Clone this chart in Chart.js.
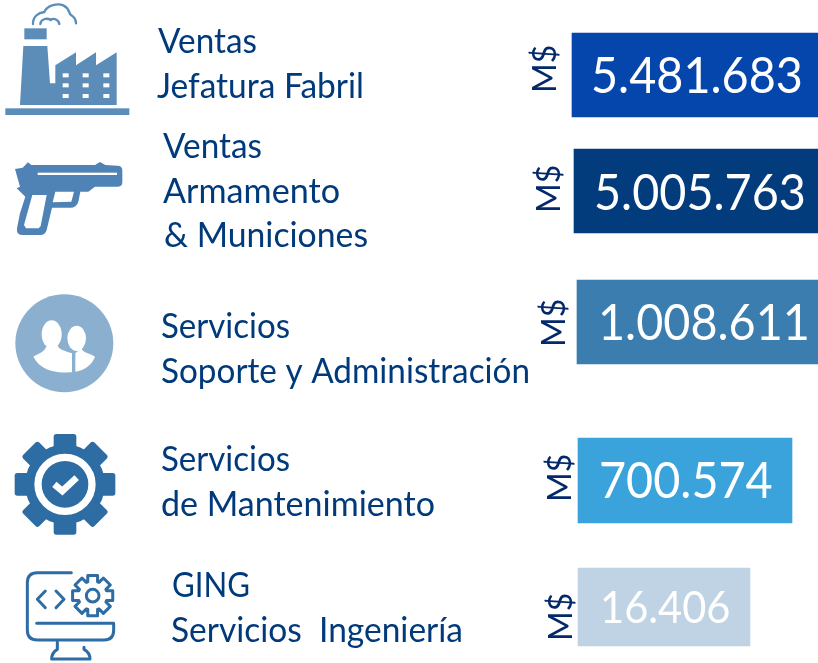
<!DOCTYPE html>
<html lang="es">
<head>
    <meta charset="UTF-8">
    <title>Ventas y Servicios</title>
    <script src="https://cdn.jsdelivr.net/npm/chart.js"></script>
    <style>
        html, body { margin: 0; padding: 0; background: #fff; }
        canvas { display: block; }
    </style>
</head>
<body>
    <canvas id="myChart" width="818" height="663"></canvas>
<script>
// Chart values
const categories = [
    ["Ventas", "Jefatura Fabril"],
    ["Ventas", "Armamento", "& Municiones"],
    ["Servicios", "Soporte y Administración"],
    ["Servicios", "de Mantenimiento"],
    ["GING", "Servicios  Ingeniería"]
]
const values = [5481683, 5005763, 1008611, 700574, 16406]
const unitLabel = "M$"
// The bars in the picture are not to scale with the printed amounts,
// so their drawn lengths are read off separately
const barLengths = [246, 244, 241, 214, 172]

// Layout of each row (all in picture pixels, the axes run 0-818 and 0-663)
const rowCenters = [75, 191, 322, 480.5, 607]
const rowThickness = [84, 84, 84, 85, 78]
const rowBarLeft = [572, 574, 577, 578, 578]
const rowColors = ["#0546AC", "#033C7C", "#3A7DAE", "#3BA3DC", "#BFD3E5"]
const textLeft = [[158, 157], [163, 163, 164], [161, 161], [161, 161], [172, 171]]
const textRight = [[257, 364], [262, 340, 368], [290, 530], [290, 435], [250, 463]]
const textBaseline = [[53, 98], [158, 203, 247], [338, 383], [471, 516], [597, 642]]
const valueLeft = [591, 594, 598, 599, 600]
const valueBaseline = [93, 210, 340, 498, 623]
const valueSize = [50, 50, 50, 50, 44.5]
const unitX = [556, 560, 565, 571, 572]
const unitY = [93, 213, 347, 502, 641]

const textColor = "#013A7B"
const unitColor = "#03296B"
const labelFont = "35px Lato"
const valueStretch = 0.935
const unitFont = "32px Lato"

// Spanish thousands separator
function formatValue(v) {
    return String(v).replace(/\B(?=(\d{3})+$)/g, ".")
}

// Lato is a little wider than the picture's font, so squeeze it sideways
function squeezedText(ctx, text, x, y, sx) {
    ctx.save()
    ctx.translate(x, y)
    ctx.scale(sx, 1)
    ctx.fillText(text, 0, 0)
    ctx.restore()
}

function poly(ctx, pts) {
    ctx.beginPath()
    pts.forEach((p, i) => i ? ctx.lineTo(p[0], p[1]) : ctx.moveTo(p[0], p[1]))
    ctx.closePath()
}

// Icons are sketched in the coordinates of a 3x enlargement of the picture
function withIcon(ctx, ox, oy, fn) {
    ctx.save()
    ctx.translate(ox, oy)
    ctx.scale(1 / 3, 1 / 3)
    ctx.lineCap = "round"
    ctx.lineJoin = "round"
    fn()
    ctx.restore()
}

function drawFactory(ctx) {
    withIcon(ctx, 0, 0, () => {
        const c = "#5B8DB8"
        ctx.fillStyle = c
        ctx.fillRect(16, 325, 372, 20)
        ctx.fillRect(73, 85, 67, 33)
        poly(ctx, [[70, 138], [142, 138], [150, 250], [166, 250], [166, 196], [228, 157], [228, 196],
            [288, 157], [288, 196], [350, 157], [350, 315], [60, 315]])
        ctx.fill()
        ctx.fillStyle = "#fff"
        ;[188, 248, 310].forEach(x => [220, 250, 282].forEach(y => ctx.fillRect(x, y, 18, 12)))
        ctx.strokeStyle = c
        ctx.lineWidth = 7
        ctx.beginPath()
        ctx.moveTo(99, 72)
        ctx.bezierCurveTo(98, 50, 115, 38, 133, 36)
        ctx.bezierCurveTo(140, 18, 170, 8, 190, 16)
        ctx.bezierCurveTo(208, 24, 206, 38, 212, 44)
        ctx.bezierCurveTo(222, 50, 228, 60, 228, 70)
        ctx.stroke()
        ctx.beginPath()
        ctx.moveTo(121, 72)
        ctx.bezierCurveTo(122, 58, 140, 52, 152, 60)
        ctx.bezierCurveTo(162, 52, 176, 60, 178, 72)
        ctx.stroke()
    })
}

function drawGun(ctx) {
    withIcon(ctx, 0, 145, () => {
        ctx.fillStyle = "#4F82B5"
        ctx.beginPath()
        ctx.moveTo(45, 72)
        ;[[68, 68], [84, 52], [94, 60], [285, 60], [300, 51], [316, 60], [352, 62]].forEach(p => ctx.lineTo(p[0], p[1]))
        ctx.quadraticCurveTo(367, 62, 367, 76)
        ctx.lineTo(367, 112)
        ctx.quadraticCurveTo(367, 125, 354, 125)
        ctx.lineTo(285, 125)
        ctx.lineTo(265, 140)
        ctx.lineTo(241, 140)
        ctx.lineTo(235, 170)
        ctx.quadraticCurveTo(230, 188, 210, 188)
        ctx.lineTo(156, 188)
        ctx.lineTo(140, 255)
        ctx.quadraticCurveTo(136, 270, 120, 270)
        ctx.lineTo(66, 270)
        ctx.quadraticCurveTo(48, 270, 51, 250)
        ctx.lineTo(60, 205)
        ctx.lineTo(76, 155)
        ctx.lineTo(50, 130)
        ctx.lineTo(60, 125)
        ctx.closePath()
        ctx.fill()
        ctx.fillStyle = "#fff"
        poly(ctx, [[166, 140], [222, 140], [214, 170], [158, 172]])
        ctx.fill()
        poly(ctx, [[97, 150], [140, 150], [122, 243], [116, 250], [78, 250], [72, 240]])
        ctx.fill()
        ctx.fillRect(113, 83, 238, 7)
    })
}

function drawPeople(ctx) {
    withIcon(ctx, 0, 285, () => {
        ctx.fillStyle = "#8BAFCF"
        ctx.beginPath()
        ctx.arc(193, 175, 147, 0, Math.PI * 2)
        ctx.fill()
        ctx.fillStyle = "#fff"
        ctx.beginPath()
        ctx.ellipse(155, 148, 30, 42, 0, 0, Math.PI * 2)
        ctx.fill()
        ctx.beginPath()
        ctx.moveTo(100, 215)
        ctx.bezierCurveTo(115, 205, 135, 200, 138, 185)
        ctx.lineTo(172, 178)
        ctx.bezierCurveTo(175, 195, 195, 198, 216, 205)
        ctx.lineTo(216, 262)
        ctx.bezierCurveTo(165, 265, 120, 255, 100, 215)
        ctx.fill()
        ctx.beginPath()
        ctx.ellipse(230, 160, 28, 38, 0, 0, Math.PI * 2)
        ctx.fill()
        ctx.beginPath()
        ctx.moveTo(226, 205)
        ctx.lineTo(244, 190)
        ctx.bezierCurveTo(250, 205, 270, 205, 285, 215)
        ctx.bezierCurveTo(275, 240, 255, 255, 226, 260)
        ctx.fill()
    })
}

function drawGear(ctx) {
    withIcon(ctx, 0, 425, () => {
        const c = "#2E6CA4"
        const cx = 195, cy = 178
        ctx.fillStyle = c
        ctx.beginPath()
        ctx.arc(cx, cy, 120, 0, Math.PI * 2)
        ctx.fill()
        for (let i = 0; i < 8; i++) {
            ctx.save()
            ctx.translate(cx, cy)
            ctx.rotate(i * Math.PI / 4)
            ctx.beginPath()
            ctx.roundRect(-34, -151, 68, 60, 8)
            ctx.fill()
            ctx.restore()
        }
        ctx.strokeStyle = "#fff"
        ctx.lineWidth = 22
        ctx.beginPath()
        ctx.arc(cx, cy, 81, 0, Math.PI * 2)
        ctx.stroke()
        ctx.lineWidth = 20
        ctx.lineCap = "butt"
        ctx.lineJoin = "miter"
        ctx.beginPath()
        ctx.moveTo(163, 178)
        ctx.lineTo(187, 198)
        ctx.lineTo(230, 158)
        ctx.stroke()
    })
}

function drawMonitor(ctx) {
    withIcon(ctx, 10, 560, () => {
        const c = "#2E6CA4"
        ctx.strokeStyle = c
        ctx.lineWidth = 9
        ctx.beginPath()
        ctx.moveTo(184, 38)
        ctx.lineTo(82, 38)
        ctx.quadraticCurveTo(52, 38, 52, 68)
        ctx.lineTo(52, 210)
        ctx.quadraticCurveTo(52, 240, 82, 240)
        ctx.lineTo(282, 240)
        ctx.quadraticCurveTo(311, 240, 311, 210)
        ctx.lineTo(311, 190)
        ctx.lineTo(80, 190)
        ctx.stroke()
        ctx.beginPath()
        ctx.moveTo(142, 246)
        ctx.lineTo(142, 268)
        ctx.quadraticCurveTo(125, 278, 125, 297)
        ctx.lineTo(240, 297)
        ctx.quadraticCurveTo(240, 278, 222, 268)
        ctx.lineTo(222, 262)
        ctx.stroke()
        ctx.beginPath()
        ctx.moveTo(106, 93)
        ctx.lineTo(82, 118)
        ctx.lineTo(106, 143)
        ctx.moveTo(138, 93)
        ctx.lineTo(162, 118)
        ctx.lineTo(138, 143)
        ctx.stroke()
        // small gear outline
        const cx = 248, cy = 107
        ctx.beginPath()
        ctx.arc(cx, cy, 19, 0, Math.PI * 2)
        ctx.stroke()
        ctx.beginPath()
        for (let i = 0; i < 8; i++) {
            const a = i * Math.PI / 4 - Math.PI / 2
            const w = 0.24
            const pts = [[a - 0.34, 44], [a - w, 62], [a + w, 62], [a + 0.34, 44]]
            pts.forEach((p, j) => {
                const x = cx + Math.cos(p[0]) * p[1]
                const y = cy + Math.sin(p[0]) * p[1]
                if (i === 0 && j === 0) ctx.moveTo(x, y)
                else ctx.lineTo(x, y)
            })
        }
        ctx.closePath()
        ctx.stroke()
    })
}

// Draws everything that is not a bar: icons, row names, amounts, units
const labelsPlugin = {
    id: "labels",
    beforeDatasetsDraw(chart) {
        const ctx = chart.ctx
        drawFactory(ctx)
        drawGun(ctx)
        drawPeople(ctx)
        drawGear(ctx)
        drawMonitor(ctx)
    },
    afterDatasetsDraw(chart) {
        const ctx = chart.ctx
        ctx.save()
        ctx.textAlign = "left"
        ctx.textBaseline = "alphabetic"
        categories.forEach((lines, i) => {
            ctx.font = labelFont
            ctx.fillStyle = textColor
            lines.forEach((line, j) => {
                const left = textLeft[i][j]
                const sx = (textRight[i][j] - left) / ctx.measureText(line).width
                squeezedText(ctx, line, left, textBaseline[i][j], sx)
            })

            ctx.font = valueSize[i] + "px Lato"
            ctx.fillStyle = "#fff"
            squeezedText(ctx, formatValue(values[i]), valueLeft[i], valueBaseline[i], valueStretch)

            ctx.save()
            ctx.translate(unitX[i], unitY[i])
            ctx.rotate(-Math.PI / 2)
            ctx.font = unitFont
            ctx.fillStyle = unitColor
            ctx.fillText(unitLabel, 0, 0)
            ctx.restore()
        })
        ctx.restore()
    }
}

new Chart(document.getElementById("myChart"), {
    type: "bar",
    data: {
        datasets: barLengths.map((len, i) => ({
            label: categories[i].join(" "),
            data: [{ x: [rowBarLeft[i], rowBarLeft[i] + len], y: rowCenters[i] }],
            backgroundColor: rowColors[i],
            barThickness: rowThickness[i],
            grouped: false,
            borderWidth: 0
        }))
    },
    options: {
        indexAxis: "y",
        responsive: false,
        animation: false,
        layout: { padding: 0 },
        plugins: { legend: { display: false }, tooltip: { enabled: false } },
        scales: {
            x: { type: "linear", min: 0, max: 818, display: false },
            // bar charts turn on offset for the index axis, which would squeeze the rows
            y: { type: "linear", min: 0, max: 663, reverse: true, offset: false, display: false }
        }
    },
    plugins: [labelsPlugin]
})
</script>
</body>
</html>
